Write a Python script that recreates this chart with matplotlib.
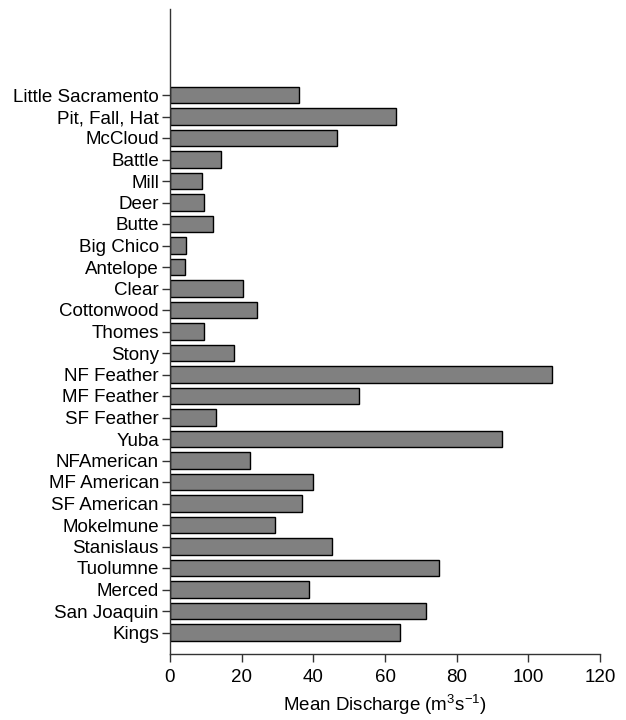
import matplotlib
matplotlib.use("Agg")
import matplotlib.pyplot as plt
import numpy as np

plt.rcParams['font.family'] = ['Liberation Sans', 'DejaVu Sans']
plt.rcParams['mathtext.fontset'] = 'custom'
plt.rcParams['mathtext.rm'] = 'Liberation Sans'

# top to bottom as in the figure
rivers = [
    "Little Sacramento", "Pit, Fall, Hat", "McCloud", "Battle", "Mill", "Deer",
    "Butte", "Big Chico", "Antelope", "Clear", "Cottonwood", "Thomes", "Stony",
    "NF Feather", "MF Feather", "SF Feather", "Yuba", "NFAmerican", "MF American",
    "SF American", "Mokelmune", "Stanislaus", "Tuolumne", "Merced", "San Joaquin",
    "Kings",
]
discharge = [
    36.1, 63.2, 46.7, 14.3, 8.8, 9.5,
    12.1, 4.4, 4.3, 20.5, 24.4, 9.4, 17.9,
    106.5, 52.8, 12.7, 92.7, 22.4, 40.0,
    36.9, 29.2, 45.3, 75.0, 38.7, 71.4,
    64.1,
]
xticks = [0, 20, 40, 60, 80, 100, 120]

fig = plt.figure(figsize=(6.26, 7.2), dpi=100)
ax = fig.add_axes([170 / 626, 1 - 654 / 720, 430 / 626, 645 / 720])

ypos = np.arange(len(rivers))[::-1]
ax.barh(ypos, discharge, height=0.78, color='#808080', edgecolor='black', linewidth=1.0)

ax.set_xlim(0, 120)
ax.set_ylim(-1, 29)
ax.set_xticks(xticks)
ax.set_yticks(ypos)
ax.set_yticklabels(rivers)
ax.tick_params(axis='both', labelsize=13.5, length=6, width=1, direction='out', color='#333333')
ax.tick_params(axis='x', pad=5)
ax.tick_params(axis='y', pad=2)
ax.set_xlabel("Mean Discharge (m$^\\mathrm{3}$s$^\\mathrm{\u22121}$)", fontsize=13.5, labelpad=4)

for side in ['top', 'right']:
    ax.spines[side].set_visible(False)
for side in ['left', 'bottom']:
    ax.spines[side].set_color('#333333')
    ax.spines[side].set_linewidth(1)

fig.savefig("out.png", dpi=100)
